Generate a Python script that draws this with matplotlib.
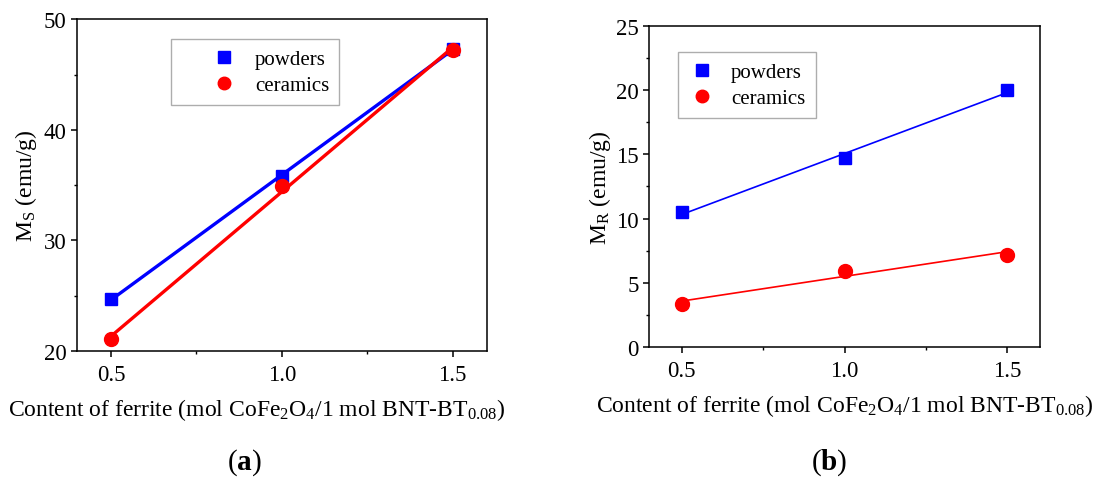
import numpy as np
import matplotlib
matplotlib.use("Agg")
import matplotlib.pyplot as plt
from matplotlib.ticker import MultipleLocator
from matplotlib.legend_handler import HandlerLine2D

plt.rcParams['font.family'] = ['Liberation Serif', 'DejaVu Serif']
plt.rcParams['mathtext.fontset'] = 'custom'
plt.rcParams['mathtext.rm'] = 'Liberation Serif'
plt.rcParams['mathtext.it'] = 'Liberation Serif:italic'
plt.rcParams['mathtext.bf'] = 'Liberation Serif:bold'

content = [0.5, 1.0, 1.5]
ms_powders = [24.7, 35.8, 47.3]
ms_ceramics = [21.1, 34.9, 47.2]
mr_powders = [10.5, 14.7, 20.0]
mr_ceramics = [3.35, 5.95, 7.2]

xlabel = r"Content of ferrite (mol CoFe$_2$O$_4$/1 mol BNT-BT$_{0.08}$)"

fig = plt.figure(figsize=(10.93, 4.81), dpi=100)
axa = fig.add_axes([0.0704, 0.268, 0.375, 0.690])
axb = fig.add_axes([0.5938, 0.2765, 0.3577, 0.6674])

def style(ax, ymin, ymax, ymaj, ymin_step):
    ax.set_xlim(0.4, 1.6)
    ax.set_ylim(ymin, ymax)
    ax.xaxis.set_major_locator(MultipleLocator(0.5))
    ax.xaxis.set_minor_locator(MultipleLocator(0.25))
    ax.yaxis.set_major_locator(MultipleLocator(ymaj))
    ax.yaxis.set_minor_locator(MultipleLocator(ymin_step))
    ax.tick_params(which='major', direction='out', length=4, width=1.1, labelsize=16.5)
    ax.tick_params(axis='x', which='major', pad=5)
    ax.tick_params(which='minor', direction='out', length=2.5, width=1.0)
    for s in ax.spines.values():
        s.set_linewidth(1.1)
    ax.set_xticks(content)
    ax.set_xticklabels(["0.5", "1.0", "1.5"])

def plot_panel(ax, x, p, c, lw):
    xa = np.array(x)
    fp = np.polyfit(xa, p, 1)
    fc = np.polyfit(xa, c, 1)
    ax.plot(xa, np.polyval(fp, xa), color='#0000ff', lw=lw, zorder=2)
    ax.plot(xa, np.polyval(fc, xa), color='#ff0000', lw=lw, zorder=2)
    ax.plot(x, p, 's', color='#0000ff', ms=9, label='powders', zorder=3)
    ax.plot(x, c, 'o', color='#ff0000', ms=10, label='ceramics', zorder=3)

plot_panel(axa, content, ms_powders, ms_ceramics, 2.4)
plot_panel(axb, content, mr_powders, mr_ceramics, 1.2)

style(axa, 20, 50, 10, 5)
style(axb, 0, 25, 5, 2.5)

axa.set_ylabel(r"M$_\mathrm{S}$ (emu/g)", fontsize=17, labelpad=3)
axb.set_ylabel(r"M$_\mathrm{R}$ (emu/g)", fontsize=17, labelpad=2)
axa.set_xlabel(xlabel, fontsize=17, labelpad=8, x=0.439)
axb.set_xlabel(xlabel, fontsize=17, labelpad=8)

# legend (a)
leg = axa.legend(loc='upper left', bbox_to_anchor=(0.229, 0.94), borderaxespad=0,
                 fontsize=15, frameon=True, fancybox=False, edgecolor='#999999',
                 handletextpad=0.4, borderpad=0.5, labelspacing=0.3,
                 handlelength=3.13, markerscale=0.9,
                 handler_map={matplotlib.lines.Line2D: HandlerLine2D(xpad=0.95)})
leg.get_frame().set_linewidth(1.0)

# legend (b)
leg = axb.legend(loc='upper left', bbox_to_anchor=(0.0742, 0.919), borderaxespad=0,
                 fontsize=15, frameon=True, fancybox=False, edgecolor='#999999',
                 handletextpad=0.74, borderpad=0.5, labelspacing=0.3,
                 handlelength=1.3, markerscale=0.9)
leg.get_frame().set_linewidth(1.0)

fig.text(0.224, 0.038, r"($\mathbf{a}$)", fontsize=21, ha='center', va='center')
fig.text(0.759, 0.038, r"($\mathbf{b}$)", fontsize=21, ha='center', va='center')

fig.savefig("out.png", dpi=100)
